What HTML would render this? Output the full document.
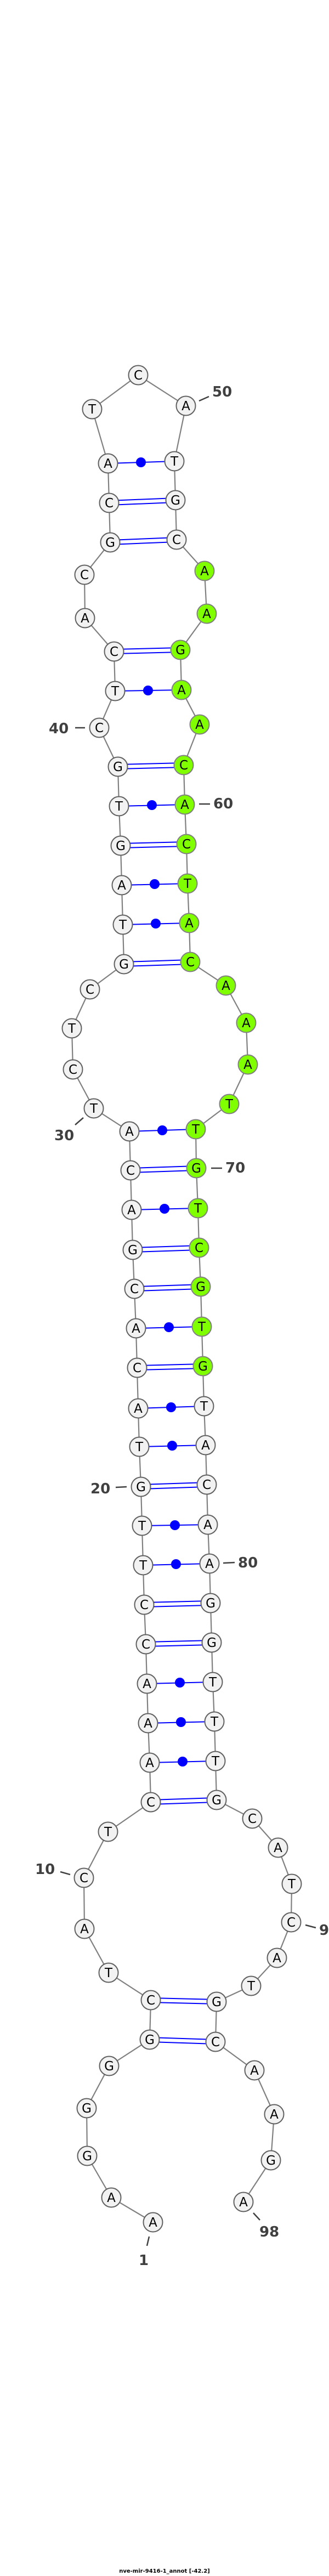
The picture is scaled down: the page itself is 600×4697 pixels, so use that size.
<!DOCTYPE html>
<html><head><meta charset="utf-8"><style>
html,body{margin:0;padding:0;background:#fff;}
svg{display:block;}
.n{fill:#f2f2f2;stroke:#606060;stroke-width:2;}
.g{fill:#80ff00;stroke:#808080;stroke-width:2;}
.t{font-family:"DejaVu Sans","Liberation Sans",sans-serif;font-size:23px;text-anchor:middle;fill:#000;}
.l{font-family:"DejaVu Sans","Liberation Sans",sans-serif;font-size:26px;font-weight:bold;fill:#404040;}
.p{stroke:#0000ff;stroke-width:2;}
.k{stroke:#404040;stroke-width:2.5;}
</style></head><body>
<svg width="600" height="4697" viewBox="0 0 600 4697" xmlns="http://www.w3.org/2000/svg">
<polyline fill="none" stroke="#808080" stroke-width="2.2" points="279,4052 203,4007 159,3931 158,3844 199,3767 273,3719 275,3647 198,3597 154,3517 153,3424 197,3340 275,3286 273,3214 270,3142 268,3070 266,2998 263,2926 261,2854 259,2782 257,2711 254,2638 252,2568 250,2494 248,2422 245,2350 242,2279 240,2206 238,2134 236,2063 171,2021 133,1950 131,1875 164,1804 226,1758 224,1686 222,1614 220,1542 217,1470 215,1398 181,1327 210,1260 208,1188 155,1127 154,1048 201,989 199,917 197,845 168,746 252,684 339,740 318,841 320,912 322,984 373,1041 377,1119 329,1185 331,1258 364,1321 335,1395 337,1467 340,1539 342,1611 345,1683 347,1754 412,1797 449,1865 452,1941 418,2013 357,2059 358,2130 361,2203 363,2275 366,2346 368,2419 370,2491 372,2564 375,2635 377,2707 379,2780 382,2851 384,2923 386,2995 388,3067 391,3139 393,3211 395,3282 460,3316 507,3369 532,3435 531,3505 505,3570 458,3621 395,3650 393,3723 464,3775 500,3855 494,3939 444,4015"/>
<g class="p">
<!-- GC double -->
<line x1="201" y1="985" x2="322" y2="980"/><line x1="201" y1="993" x2="322" y2="988"/>
<line x1="199" y1="913" x2="320" y2="908"/><line x1="199" y1="921" x2="320" y2="916"/>
<line x1="208" y1="1184" x2="329" y2="1181"/><line x1="208" y1="1192" x2="329" y2="1189"/>
<line x1="215" y1="1394" x2="335" y2="1391"/><line x1="215" y1="1402" x2="335" y2="1399"/>
<line x1="220" y1="1538" x2="340" y2="1535"/><line x1="220" y1="1546" x2="340" y2="1543"/>
<line x1="226" y1="1754" x2="347" y2="1750"/><line x1="226" y1="1762" x2="347" y2="1758"/>
<line x1="238" y1="2130" x2="358" y2="2126"/><line x1="238" y1="2138" x2="358" y2="2134"/>
<line x1="242" y1="2275" x2="363" y2="2271"/><line x1="242" y1="2283" x2="363" y2="2279"/>
<line x1="245" y1="2346" x2="366" y2="2342"/><line x1="245" y1="2354" x2="366" y2="2350"/>
<line x1="250" y1="2490" x2="370" y2="2487"/><line x1="250" y1="2498" x2="370" y2="2495"/>
<line x1="257" y1="2707" x2="377" y2="2703"/><line x1="257" y1="2715" x2="377" y2="2711"/>
<line x1="263" y1="2922" x2="384" y2="2919"/><line x1="263" y1="2930" x2="384" y2="2927"/>
<line x1="266" y1="2994" x2="386" y2="2991"/><line x1="266" y1="3002" x2="386" y2="2999"/>
<line x1="275" y1="3282" x2="395" y2="3278"/><line x1="275" y1="3290" x2="395" y2="3286"/>
<line x1="275" y1="3643" x2="395" y2="3646"/><line x1="275" y1="3651" x2="395" y2="3654"/>
<line x1="273" y1="3715" x2="393" y2="3719"/><line x1="273" y1="3723" x2="393" y2="3727"/>
<!-- AT single -->
<line x1="197" y1="845" x2="318" y2="841"/>
<line x1="210" y1="1260" x2="331" y2="1258"/>
<line x1="217" y1="1470" x2="337" y2="1467"/>
<line x1="222" y1="1614" x2="342" y2="1611"/>
<line x1="224" y1="1686" x2="345" y2="1683"/>
<line x1="236" y1="2063" x2="357" y2="2059"/>
<line x1="240" y1="2206" x2="361" y2="2203"/>
<line x1="248" y1="2422" x2="368" y2="2419"/>
<line x1="252" y1="2568" x2="372" y2="2564"/>
<line x1="254" y1="2638" x2="375" y2="2635"/>
<line x1="259" y1="2782" x2="379" y2="2780"/>
<line x1="261" y1="2854" x2="382" y2="2851"/>
<line x1="268" y1="3070" x2="388" y2="3067"/>
<line x1="270" y1="3142" x2="391" y2="3139"/>
<line x1="273" y1="3214" x2="393" y2="3211"/>
</g>
<g fill="#0000ff">
<circle cx="257" cy="843" r="9"/><circle cx="270" cy="1259" r="9"/><circle cx="277" cy="1468" r="9"/><circle cx="282" cy="1612" r="9"/><circle cx="284" cy="1684" r="9"/><circle cx="296" cy="2061" r="9"/><circle cx="300" cy="2204" r="9"/><circle cx="308" cy="2420" r="9"/><circle cx="312" cy="2566" r="9"/><circle cx="314" cy="2636" r="9"/><circle cx="319" cy="2781" r="9"/><circle cx="321" cy="2852" r="9"/><circle cx="328" cy="3068" r="9"/><circle cx="330" cy="3140" r="9"/><circle cx="333" cy="3212" r="9"/>
</g>
<g>
<circle class="n" cx="279" cy="4052" r="17.5"/><circle class="n" cx="203" cy="4007" r="17.5"/><circle class="n" cx="159" cy="3931" r="17.5"/><circle class="n" cx="158" cy="3844" r="17.5"/><circle class="n" cx="199" cy="3767" r="17.5"/><circle class="n" cx="273" cy="3719" r="17.5"/><circle class="n" cx="275" cy="3647" r="17.5"/><circle class="n" cx="198" cy="3597" r="17.5"/><circle class="n" cx="154" cy="3517" r="17.5"/><circle class="n" cx="153" cy="3424" r="17.5"/><circle class="n" cx="197" cy="3340" r="17.5"/><circle class="n" cx="275" cy="3286" r="17.5"/><circle class="n" cx="273" cy="3214" r="17.5"/><circle class="n" cx="270" cy="3142" r="17.5"/><circle class="n" cx="268" cy="3070" r="17.5"/><circle class="n" cx="266" cy="2998" r="17.5"/><circle class="n" cx="263" cy="2926" r="17.5"/><circle class="n" cx="261" cy="2854" r="17.5"/><circle class="n" cx="259" cy="2782" r="17.5"/><circle class="n" cx="257" cy="2711" r="17.5"/><circle class="n" cx="254" cy="2638" r="17.5"/><circle class="n" cx="252" cy="2568" r="17.5"/><circle class="n" cx="250" cy="2494" r="17.5"/><circle class="n" cx="248" cy="2422" r="17.5"/><circle class="n" cx="245" cy="2350" r="17.5"/><circle class="n" cx="242" cy="2279" r="17.5"/><circle class="n" cx="240" cy="2206" r="17.5"/><circle class="n" cx="238" cy="2134" r="17.5"/><circle class="n" cx="236" cy="2063" r="17.5"/><circle class="n" cx="171" cy="2021" r="17.5"/><circle class="n" cx="133" cy="1950" r="17.5"/><circle class="n" cx="131" cy="1875" r="17.5"/><circle class="n" cx="164" cy="1804" r="17.5"/><circle class="n" cx="226" cy="1758" r="17.5"/><circle class="n" cx="224" cy="1686" r="17.5"/><circle class="n" cx="222" cy="1614" r="17.5"/><circle class="n" cx="220" cy="1542" r="17.5"/><circle class="n" cx="217" cy="1470" r="17.5"/><circle class="n" cx="215" cy="1398" r="17.5"/><circle class="n" cx="181" cy="1327" r="17.5"/><circle class="n" cx="210" cy="1260" r="17.5"/><circle class="n" cx="208" cy="1188" r="17.5"/><circle class="n" cx="155" cy="1127" r="17.5"/><circle class="n" cx="154" cy="1048" r="17.5"/><circle class="n" cx="201" cy="989" r="17.5"/><circle class="n" cx="199" cy="917" r="17.5"/><circle class="n" cx="197" cy="845" r="17.5"/><circle class="n" cx="168" cy="746" r="17.5"/><circle class="n" cx="252" cy="684" r="17.5"/><circle class="n" cx="339" cy="740" r="17.5"/><circle class="n" cx="318" cy="841" r="17.5"/><circle class="n" cx="320" cy="912" r="17.5"/><circle class="n" cx="322" cy="984" r="17.5"/>
<circle class="g" cx="373" cy="1041" r="17.5"/><circle class="g" cx="377" cy="1119" r="17.5"/><circle class="g" cx="329" cy="1185" r="17.5"/><circle class="g" cx="331" cy="1258" r="17.5"/><circle class="g" cx="364" cy="1321" r="17.5"/><circle class="g" cx="335" cy="1395" r="17.5"/><circle class="g" cx="337" cy="1467" r="17.5"/><circle class="g" cx="340" cy="1539" r="17.5"/><circle class="g" cx="342" cy="1611" r="17.5"/><circle class="g" cx="345" cy="1683" r="17.5"/><circle class="g" cx="347" cy="1754" r="17.5"/><circle class="g" cx="412" cy="1797" r="17.5"/><circle class="g" cx="449" cy="1865" r="17.5"/><circle class="g" cx="452" cy="1941" r="17.5"/><circle class="g" cx="418" cy="2013" r="17.5"/><circle class="g" cx="357" cy="2059" r="17.5"/><circle class="g" cx="358" cy="2130" r="17.5"/><circle class="g" cx="361" cy="2203" r="17.5"/><circle class="g" cx="363" cy="2275" r="17.5"/><circle class="g" cx="366" cy="2346" r="17.5"/><circle class="g" cx="368" cy="2419" r="17.5"/><circle class="g" cx="370" cy="2491" r="17.5"/>
<circle class="n" cx="372" cy="2564" r="17.5"/><circle class="n" cx="375" cy="2635" r="17.5"/><circle class="n" cx="377" cy="2707" r="17.5"/><circle class="n" cx="379" cy="2780" r="17.5"/><circle class="n" cx="382" cy="2851" r="17.5"/><circle class="n" cx="384" cy="2923" r="17.5"/><circle class="n" cx="386" cy="2995" r="17.5"/><circle class="n" cx="388" cy="3067" r="17.5"/><circle class="n" cx="391" cy="3139" r="17.5"/><circle class="n" cx="393" cy="3211" r="17.5"/><circle class="n" cx="395" cy="3282" r="17.5"/><circle class="n" cx="460" cy="3316" r="17.5"/><circle class="n" cx="507" cy="3369" r="17.5"/><circle class="n" cx="532" cy="3435" r="17.5"/><circle class="n" cx="531" cy="3505" r="17.5"/><circle class="n" cx="505" cy="3570" r="17.5"/><circle class="n" cx="458" cy="3621" r="17.5"/><circle class="n" cx="395" cy="3650" r="17.5"/><circle class="n" cx="393" cy="3723" r="17.5"/><circle class="n" cx="464" cy="3775" r="17.5"/><circle class="n" cx="500" cy="3855" r="17.5"/><circle class="n" cx="494" cy="3939" r="17.5"/><circle class="n" cx="444" cy="4015" r="17.5"/>
</g>
<g class="t">
<text x="279" y="4060">A</text><text x="203" y="4015">A</text><text x="159" y="3939">G</text><text x="158" y="3852">G</text><text x="199" y="3775">G</text><text x="273" y="3727">G</text><text x="275" y="3655">C</text><text x="198" y="3605">T</text><text x="154" y="3525">A</text><text x="153" y="3432">C</text><text x="197" y="3348">T</text><text x="275" y="3294">C</text><text x="273" y="3222">A</text><text x="270" y="3150">A</text><text x="268" y="3078">A</text><text x="266" y="3006">C</text><text x="263" y="2934">C</text><text x="261" y="2862">T</text><text x="259" y="2790">T</text><text x="257" y="2719">G</text><text x="254" y="2646">T</text><text x="252" y="2576">A</text><text x="250" y="2502">C</text><text x="248" y="2430">A</text><text x="245" y="2358">C</text><text x="242" y="2287">G</text><text x="240" y="2214">A</text><text x="238" y="2142">C</text><text x="236" y="2071">A</text><text x="171" y="2029">T</text><text x="133" y="1958">C</text><text x="131" y="1883">T</text><text x="164" y="1812">C</text><text x="226" y="1766">G</text><text x="224" y="1694">T</text><text x="222" y="1622">A</text><text x="220" y="1550">G</text><text x="217" y="1478">T</text><text x="215" y="1406">G</text><text x="181" y="1335">C</text><text x="210" y="1268">T</text><text x="208" y="1196">C</text><text x="155" y="1135">A</text><text x="154" y="1056">C</text><text x="201" y="997">G</text><text x="199" y="925">C</text><text x="197" y="853">A</text><text x="168" y="754">T</text><text x="252" y="692">C</text><text x="339" y="748">A</text><text x="318" y="849">T</text><text x="320" y="920">G</text><text x="322" y="992">C</text>
<text x="373" y="1049">A</text><text x="377" y="1127">A</text><text x="329" y="1193">G</text><text x="331" y="1266">A</text><text x="364" y="1329">A</text><text x="335" y="1403">C</text><text x="337" y="1475">A</text><text x="340" y="1547">C</text><text x="342" y="1619">T</text><text x="345" y="1691">A</text><text x="347" y="1762">C</text><text x="412" y="1805">A</text><text x="449" y="1873">A</text><text x="452" y="1949">A</text><text x="418" y="2021">T</text><text x="357" y="2067">T</text><text x="358" y="2138">G</text><text x="361" y="2211">T</text><text x="363" y="2283">C</text><text x="366" y="2354">G</text><text x="368" y="2427">T</text><text x="370" y="2499">G</text>
<text x="372" y="2572">T</text><text x="375" y="2643">A</text><text x="377" y="2715">C</text><text x="379" y="2788">A</text><text x="382" y="2859">A</text><text x="384" y="2931">G</text><text x="386" y="3003">G</text><text x="388" y="3075">T</text><text x="391" y="3147">T</text><text x="393" y="3219">T</text><text x="395" y="3290">G</text><text x="460" y="3324">C</text><text x="507" y="3377">A</text><text x="532" y="3443">T</text><text x="531" y="3513">C</text><text x="505" y="3578">A</text><text x="458" y="3629">T</text><text x="395" y="3658">G</text><text x="393" y="3731">C</text><text x="464" y="3783">A</text><text x="500" y="3863">A</text><text x="494" y="3947">G</text><text x="444" y="4023">A</text>
</g>
<g class="k">
<line x1="363" y1="731" x2="381" y2="723"/>
<line x1="137" y1="1327" x2="155" y2="1327"/>
<line x1="363" y1="1466" x2="383" y2="1466"/>
<line x1="137" y1="2051" x2="152" y2="2038"/>
<line x1="385" y1="2130" x2="405" y2="2130"/>
<line x1="211" y1="2712" x2="231" y2="2711"/>
<line x1="407" y1="2850" x2="428" y2="2849"/>
<line x1="110" y1="3413" x2="128" y2="3418"/>
<line x1="557" y1="3510" x2="576" y2="3515"/>
<line x1="272" y1="4078" x2="268" y2="4095"/>
<line x1="462" y1="4035" x2="474" y2="4048"/>
</g>
<g class="l">
<text x="387" y="723">50</text>
<text x="89" y="1337">40</text>
<text x="389" y="1474">60</text>
<text x="99" y="2079">30</text>
<text x="411" y="2138">70</text>
<text x="165" y="2723">20</text>
<text x="434" y="2858">80</text>
<text x="64" y="3417">10</text>
<text x="582" y="3528">90</text>
<text x="253" y="4130">1</text>
<text x="473" y="4078">98</text>
</g>
<text x="300" y="4691" text-anchor="middle" font-family="DejaVu Sans,Liberation Sans,sans-serif" font-size="10" font-weight="bold" fill="#000">nve-mir-9416-1_annot [-42.2]</text>
</svg>
</body></html>
